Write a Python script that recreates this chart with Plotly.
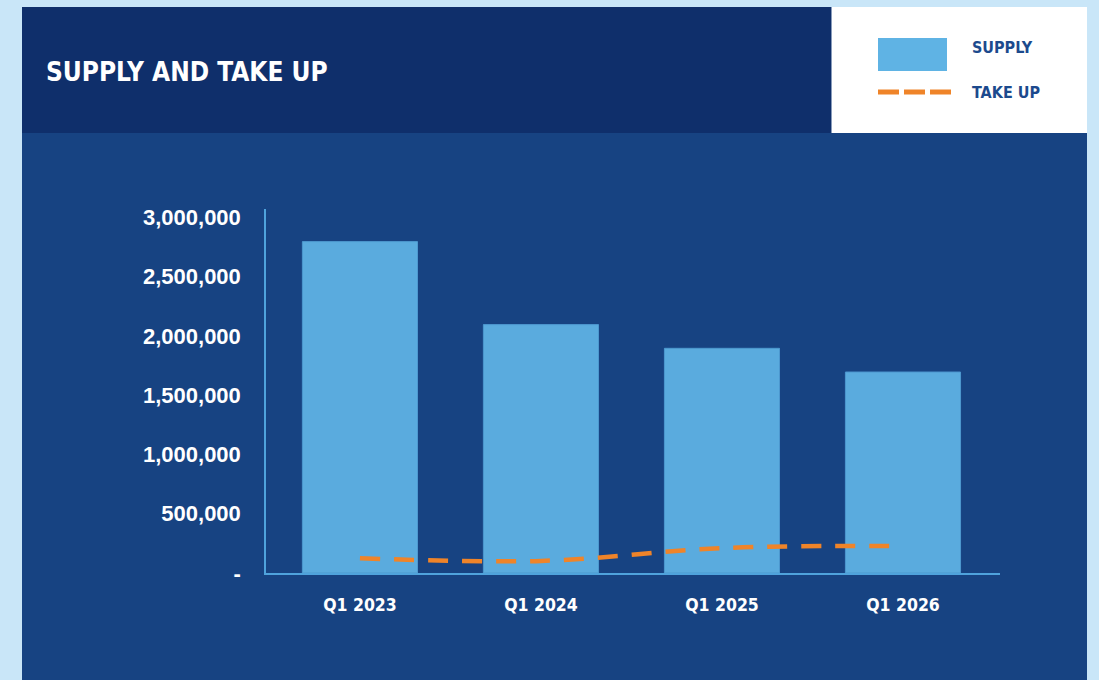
import plotly.graph_objects as go

# ---- data ----
categories = ["Q1 2023", "Q1 2024", "Q1 2025", "Q1 2026"]
supply = [2795000, 2095000, 1895000, 1695000]
take_up = [125000, 102000, 210000, 228000]
y_tickvals = [0, 500000, 1000000, 1500000, 2000000, 2500000, 3000000]
y_ticktext = ["-", "500,000", "1,000,000", "1,500,000", "2,000,000", "2,500,000", "3,000,000"]
title_text = "SUPPLY AND TAKE UP"
legend_labels = ["SUPPLY", "TAKE UP"]

# ---- styles ----
W, H = 1099, 680
L, R, T, B = 266, 1000, 209, 573   # plot area in pixels
BORDER = "#c9e6f8"
PANEL = "#174382"
TITLEBAR = "#0f2f6b"
BAR = "#5aabde"
ORANGE = "#ef8429"
AXIS = "#4fa3dc"
LEG_TEXT = "#1c4a8d"
NARROW = "DejaVu Sans Condensed, Liberation Sans Narrow, Arial Narrow, sans-serif"
WIDE = "Liberation Sans, Arial, sans-serif"


def px(x):
    return (x - L) / (R - L)


def py(y):
    return (B - y) / (B - T)


fig = go.Figure()
fig.add_trace(go.Bar(
    x=categories, y=supply, name=legend_labels[0],
    marker=dict(color=BAR, line=dict(color="#4d98cf", width=1)),
    width=0.636, showlegend=False,
))
fig.add_trace(go.Scatter(
    x=categories, y=take_up, name=legend_labels[1], mode="lines",
    line=dict(color=ORANGE, width=4.5, dash="20px,14px", shape="spline", smoothing=1),
    showlegend=False,
))

shapes = [
    # main panel
    dict(type="rect", xref="paper", yref="paper", x0=px(22), x1=px(1087), y0=py(690), y1=py(7),
         fillcolor=PANEL, line=dict(width=0), layer="below"),
    # title bar
    dict(type="rect", xref="paper", yref="paper", x0=px(22), x1=px(831.5), y0=py(133), y1=py(7),
         fillcolor=TITLEBAR, line=dict(width=0), layer="below"),
    # legend box
    dict(type="rect", xref="paper", yref="paper", x0=px(831.5), x1=px(1087), y0=py(133), y1=py(7),
         fillcolor="white", line=dict(width=0), layer="below"),
    # legend swatch supply
    dict(type="rect", xref="paper", yref="paper", x0=px(878), x1=px(947), y0=py(71), y1=py(38),
         fillcolor="#5fb3e4", line=dict(width=0)),
    # legend swatch take up
    dict(type="line", xref="paper", yref="paper", x0=px(878), x1=px(952), y0=py(92), y1=py(92),
         line=dict(color=ORANGE, width=5, dash="21px,5px")),
]

annotations = [
    dict(text=title_text, xref="paper", yref="paper", x=px(44), y=py(72), xanchor="left", yanchor="middle",
         showarrow=False, font=dict(family=NARROW, size=26, color="white", weight="bold")),
    dict(text=legend_labels[0], xref="paper", yref="paper", x=px(970), y=py(47), xanchor="left", yanchor="middle",
         showarrow=False, font=dict(family=NARROW, size=16, color=LEG_TEXT, weight="bold")),
    dict(text=legend_labels[1], xref="paper", yref="paper", x=px(970), y=py(92), xanchor="left", yanchor="middle",
         showarrow=False, font=dict(family=NARROW, size=16, color=LEG_TEXT, weight="bold")),
]

fig.update_layout(
    width=W, height=H,
    margin=dict(l=L, r=W - R, t=T, b=H - B),
    paper_bgcolor=BORDER,
    plot_bgcolor="rgba(0,0,0,0)",
    shapes=shapes,
    annotations=annotations,
    showlegend=False,
    bargap=0.364,
    xaxis=dict(
        type="category", range=[-0.519, 3.536],
        showline=True, linecolor=AXIS, linewidth=1.5,
        showgrid=False, zeroline=False, ticks="",
        tickfont=dict(family=NARROW, size=17.5, color="white", weight="bold"),
        ticklabelstandoff=15,
    ),
    yaxis=dict(
        range=[0, 3070000],
        tickvals=y_tickvals, ticktext=y_ticktext,
        showline=True, linecolor=AXIS, linewidth=1.5,
        showgrid=False, zeroline=False, ticks="",
        tickfont=dict(family=WIDE, size=22, color="white", weight="bold"),
        ticklabelstandoff=19,
    ),
)

fig.write_html("out.html", config={"displayModeBar": False},
               post_script="document.body.style.margin='0px';")
